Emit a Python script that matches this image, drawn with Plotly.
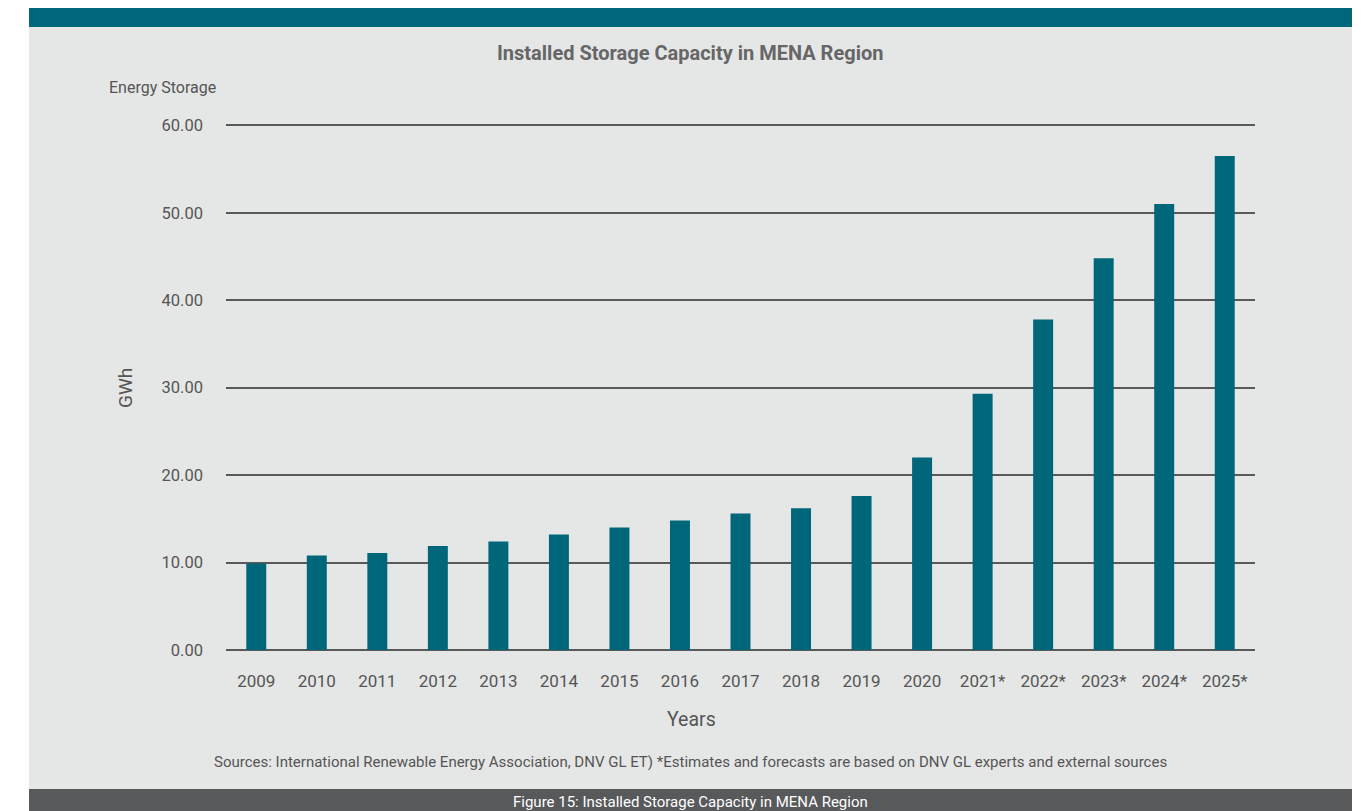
import plotly.graph_objects as go

years = ["2009", "2010", "2011", "2012", "2013", "2014", "2015", "2016", "2017",
         "2018", "2019", "2020", "2021*", "2022*", "2023*", "2024*", "2025*"]
capacity_gwh = [9.9, 10.8, 11.1, 11.9, 12.4, 13.2, 14.0, 14.8, 15.6,
                16.2, 17.6, 22.0, 29.3, 37.8, 44.8, 51.0, 56.5]
y_ticks = [0, 10, 20, 30, 40, 50, 60]
y_tick_labels = ["0.00", "10.00", "20.00", "30.00", "40.00", "50.00", "60.00"]

TEAL = "#00677A"
PANEL = "#E5E7E6"
GRID = "#595959"
TEXT = "#555555"

W, H = 1364, 811
L, R, T, B = 226, 1255, 124, 650


def px(x):
    return (x - L) / (R - L)


def py(y):
    return (B - y) / (B - T)


fig = go.Figure()
fig.add_trace(go.Bar(
    x=years, y=capacity_gwh, marker_color=TEAL, width=0.33,
    marker_line_width=0, hoverinfo="x+y"))

shapes = [
    dict(type="rect", xref="paper", yref="paper", x0=px(29), x1=px(1352), y0=py(789), y1=py(8),
         fillcolor=PANEL, line_width=0, layer="below"),
    dict(type="rect", xref="paper", yref="paper", x0=px(29), x1=px(1352), y0=py(27), y1=py(8),
         fillcolor=TEAL, line_width=0, layer="below"),
    dict(type="rect", xref="paper", yref="paper", x0=px(29), x1=px(1352), y0=py(811), y1=py(789),
         fillcolor="#58595B", line_width=0, layer="below"),
]

annotations = [
    dict(text="<b>Installed Storage Capacity in MENA Region</b>", x=px(690), y=py(53),
         xref="paper", yref="paper", showarrow=False, xanchor="center", yanchor="middle",
         font=dict(size=20, color="#666666", family="Roboto")),
    dict(text="Energy Storage", x=px(107), y=py(87), xref="paper", yref="paper",
         showarrow=False, xanchor="left", yanchor="middle",
         font=dict(size=16, color=TEXT, family="Roboto")),
    dict(text="GWh", x=px(125), y=py(388), xref="paper", yref="paper", textangle=-90,
         showarrow=False, xanchor="center", yanchor="middle",
         font=dict(size=19, color=TEXT, family="Roboto")),
    dict(text="Years", x=px(691), y=py(719), xref="paper", yref="paper",
         showarrow=False, xanchor="center", yanchor="middle",
         font=dict(size=19.5, color=TEXT, family="Roboto")),
    dict(text="Sources: International Renewable Energy Association, DNV GL ET) *Estimates and forecasts are based on DNV GL experts and external sources",
         x=px(690), y=py(762), xref="paper", yref="paper",
         showarrow=False, xanchor="center", yanchor="middle",
         font=dict(size=15, color=TEXT, family="Roboto")),
    dict(text="Figure 15: Installed Storage Capacity in MENA Region", x=px(690), y=py(802),
         xref="paper", yref="paper", showarrow=False, xanchor="center", yanchor="middle",
         font=dict(size=15, color="white", family="Roboto")),
]

fig.update_layout(
    width=W, height=H,
    margin=dict(l=L, r=W - R, t=T, b=H - B, pad=0),
    paper_bgcolor="white", plot_bgcolor=PANEL,
    showlegend=False, bargap=0.67,
    font=dict(family="Roboto", color=TEXT),
    shapes=shapes, annotations=annotations,
    xaxis=dict(showgrid=False, showline=False, zeroline=False, ticks="",
               tickfont=dict(size=17, color=TEXT), ticklabelstandoff=19,
               fixedrange=True),
    yaxis=dict(range=[0, 60.15], tickvals=y_ticks, ticktext=y_tick_labels,
               showgrid=True, gridcolor=GRID, gridwidth=2,
               zeroline=True, zerolinecolor=GRID, zerolinewidth=2,
               showline=False, ticks="", tickfont=dict(size=16.5, color=TEXT),
               ticklabelstandoff=22, fixedrange=True),
)

fig.write_html("out.html", config={"displayModeBar": False})
